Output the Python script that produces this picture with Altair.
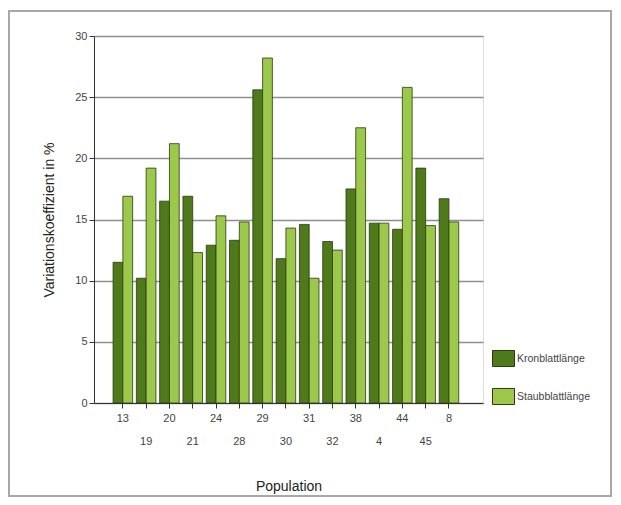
import altair as alt
import pandas as pd

populations = ["13", "19", "20", "21", "24", "28", "29", "30", "31", "32", "38", "4", "44", "45", "8"]
kronblatt = [11.5, 10.2, 16.5, 16.9, 12.9, 13.3, 25.6, 11.8, 14.6, 13.2, 17.5, 14.7, 14.2, 19.2, 16.7]
staubblatt = [16.9, 19.2, 21.2, 12.3, 15.3, 14.8, 28.2, 14.3, 10.2, 12.5, 22.5, 14.7, 25.8, 14.5, 14.8]
series = ["Kronblattlänge", "Staubblattlänge"]
colors = ["#4f7a1b", "#9cc84b"]
second_row = populations[1::2]

rows = []
for p, k, s in zip(populations, kronblatt, staubblatt):
    rows.append({"Population": p, "Reihe": series[0], "Wert": k})
    rows.append({"Population": p, "Reihe": series[1], "Wert": s})
df = pd.DataFrame(rows)

font = "Liberation Sans"
row2_list = "[" + ",".join("'%s'" % v for v in second_row) + "]"

bars = alt.Chart(df).mark_bar(stroke="#2b3a12", strokeWidth=0.8).encode(
    x=alt.X("Population:N", sort=populations,
            scale=alt.Scale(paddingInner=0.16, paddingOuter=0.93, align=0.44),
            axis=alt.Axis(title="Population", labelAngle=0, labelFontSize=11,
                          labelColor="#444", labelFont=font,
                          labelExpr="indexof(" + row2_list + ", datum.label) >= 0 ? ['', datum.label] : datum.label",
                          labelLineHeight=23, labelPadding=4, tickSize=5, tickColor="#333",
                          domainColor="#333", titleFont=font, titleFontSize=14,
                          titleFontWeight="normal", titleColor="#222", titlePadding=33,
                          labelOverlap=False)),
    xOffset=alt.XOffset("Reihe:N", sort=series),
    y=alt.Y("Wert:Q", scale=alt.Scale(domain=[0, 30], nice=False),
            axis=alt.Axis(title="Variationskoeffizient in %", values=[0, 5, 10, 15, 20, 25, 30],
                          labelFontSize=11, labelColor="#444", labelFont=font,
                          tickSize=5, tickColor="#333", domainColor="#333",
                          gridColor="#8f8f8f", gridWidth=1.6,
                          titleFont=font, titleFontSize=14, titleFontWeight="normal",
                          titleColor="#222", titlePadding=18)),
    color=alt.Color("Reihe:N", sort=series,
                    scale=alt.Scale(domain=series, range=colors),
                    legend=alt.Legend(title=None, orient="none", legendX=398, legendY=311,
                                      symbolType="M-1,-0.73H1V0.73H-1Z", symbolSize=484,
                                      symbolStrokeColor="#2b3a12", symbolStrokeWidth=1,
                                      symbolOpacity=1, rowPadding=16, labelFontSize=10.5,
                                      labelFont=font, labelColor="#444", labelOffset=2)),
)

frame = alt.Chart(alt.Data(values=[{}])).mark_rect(
    fill=None, stroke="#a8a8a8", strokeWidth=2
).encode(
    x=alt.value(-85), x2=alt.value(517), y=alt.value(-25), y2=alt.value(460)
)

chart = alt.layer(frame, bars).properties(
    width=389, height=367,
    autosize=alt.AutoSizeParams(type="none"),
    padding={"left": 86, "top": 28, "right": 130, "bottom": 94},
).configure_view(stroke="#999", strokeWidth=1.5).configure(background="white")

chart.save("out.html", embed_options={"renderer": "svg", "actions": False})
